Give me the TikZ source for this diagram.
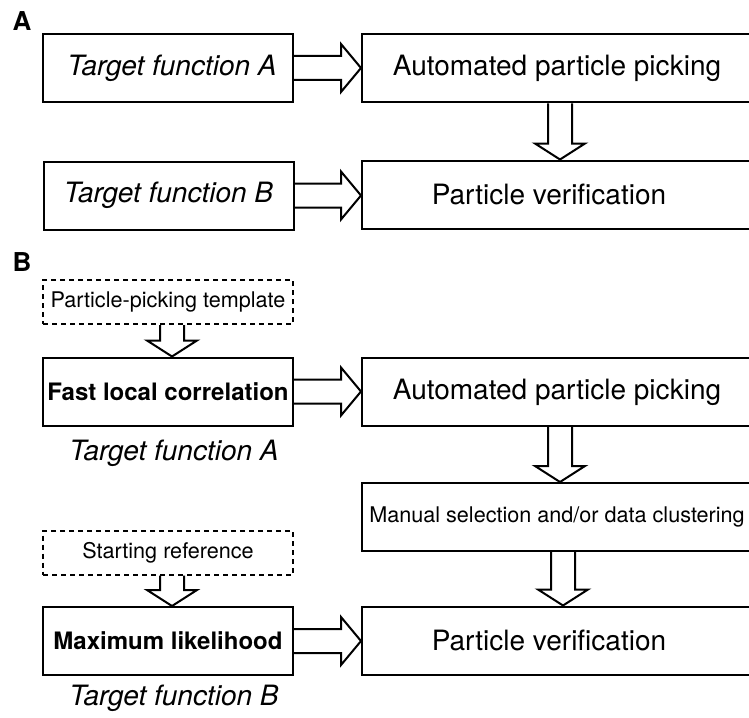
\documentclass[tikz,border=0pt]{standalone}
\usepackage{fontspec}
\setmainfont{TeX Gyre Heros}
\usetikzlibrary{calc}
\newcommand{\rblock}[2]{%
  \draw[barrow] let \p1=(#1.east), \p2=(#2.west) in
    (\x1,\y1+6pt) -- (\x2-10pt,\y1+6pt) -- (\x2-10pt,\y1+12pt) -- (\x2,\y1)
    -- (\x2-10pt,\y1-12pt) -- (\x2-10pt,\y1-6pt) -- (\x1,\y1-6pt);}
\newcommand{\dblock}[3]{%
  \draw[barrow] let \p1=(#1.south), \p2=(#2.north) in
    (#3-6pt,\y1) -- (#3-6pt,\y2+8pt) -- (#3-12.5pt,\y2+8pt) -- (#3,\y2)
    -- (#3+12.5pt,\y2+8pt) -- (#3+6pt,\y2+8pt) -- (#3+6pt,\y1);}
\begin{document}
\begin{tikzpicture}[x=0.5pt,y=-0.5pt,
  box/.style={draw,line width=1pt,inner sep=0pt,minimum width=125pt,minimum height=34pt,
    font=\fontsize{14}{16}\selectfont},
  rbox/.style={box,minimum width=195pt},
  dbox/.style={box,dash pattern=on 2.5pt off 2pt,minimum height=22pt,
    font=\fontsize{10.8}{12}\selectfont},
  bbox/.style={box,font=\bfseries\fontsize{12}{14}\selectfont},
  barrow/.style={draw,line width=1pt,line join=miter},
  lab/.style={font=\bfseries\fontsize{13}{15}\selectfont,inner sep=0pt},
  captext/.style={inner sep=0pt,font=\itshape\fontsize{14}{16}\selectfont}]
\clip (0,0) rectangle (749,717);
% Panel A
\node[lab] (la) at (22,21) {A};
\node[box,font=\itshape\fontsize{14}{16}\selectfont] (tfa) at (168,68) {\hspace{4pt}Target function A};
\node[rbox] (ap) at (557,68.5) {Automated particle picking};
\node[box,font=\itshape\fontsize{14}{16}\selectfont] (tfb) at (168.5,195.5) {Target function B};
\node[rbox] (pv) at (557,194.5) {\hspace{-8pt}Particle verification};
\rblock{tfa}{ap}
\rblock{tfb}{pv}
\dblock{ap}{pv}{280pt}
% Panel B
\node[lab] (lb) at (22,262) {B};
\node[dbox] (d1) at (168,302) {Particle-picking template};
\node[bbox] (flc) at (168,391.5) {Fast local correlation};
\node[captext] (ca) at (174,453) {Target function A};
\node[rbox] (ap2) at (557,392) {Automated particle picking};
\node[rbox,font=\fontsize{10.8}{12}\selectfont] (ms) at (557,517) {Manual selection and/or data clustering};
\node[rbox] (pv2) at (557,640.5) {\hspace{-8pt}Particle verification};
\node[dbox] (d2) at (168,552.5) {Starting reference};
\node[bbox] (ml) at (168,641) {Maximum likelihood};
\node[captext] (cb) at (174,698) {Target function B};
\dblock{d1}{flc}{86pt}
\dblock{d2}{ml}{86pt}
\rblock{flc}{ap2}
\rblock{ml}{pv2}
\dblock{ap2}{ms}{280pt}
\dblock{ms}{pv2}{281.5pt}
\end{tikzpicture}
\end{document}
